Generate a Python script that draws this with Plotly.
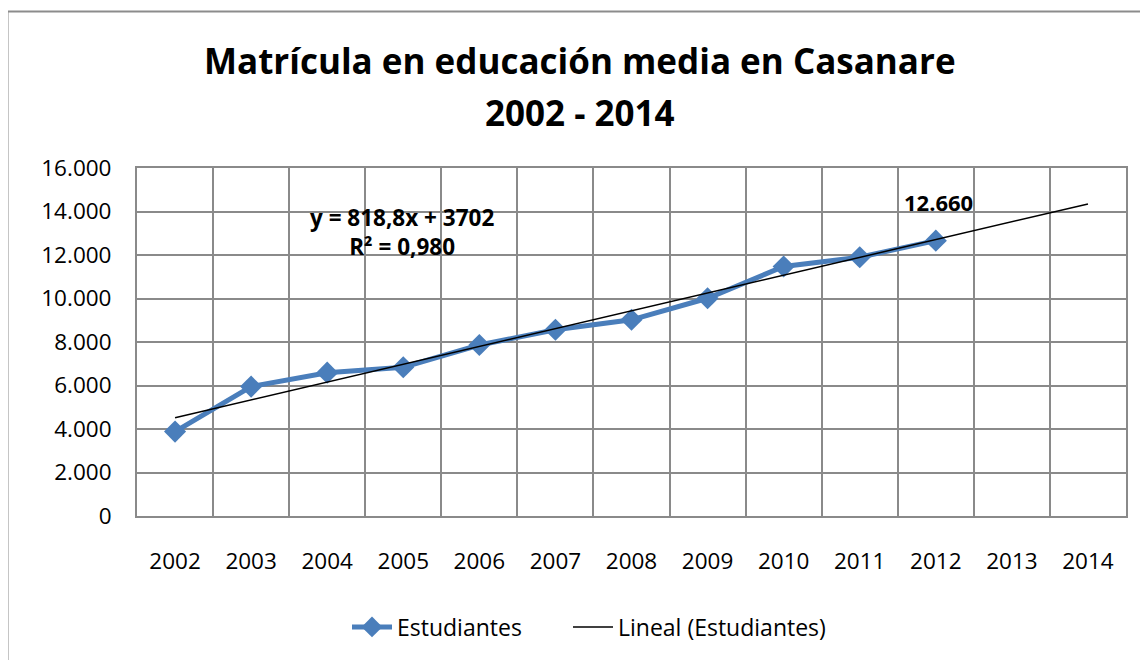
import plotly.graph_objects as go

years = ["2002", "2003", "2004", "2005", "2006", "2007", "2008", "2009", "2010", "2011", "2012", "2013", "2014"]
data_years = years[:11]
estudiantes = [3880, 5950, 6590, 6840, 7860, 8560, 9020, 10010, 11470, 11900, 12660]
trend_slope = 818.8
trend_intercept = 3702
y_ticks = [0, 2000, 4000, 6000, 8000, 10000, 12000, 14000, 16000]
y_tick_text = ["0", "2.000", "4.000", "6.000", "8.000", "10.000", "12.000", "14.000", "16.000"]
title_lines = ["Matrícula en educación media en Casanare", "2002 - 2014"]
equation_text = "y = 818,8x + 3702<br>R² = 0,980"
last_label = "12.660"

trend_vals = [trend_slope * (i + 1) + trend_intercept for i in range(len(years))]

FONT = "Open Sans"
GRID = "#8a8a8a"
OFF = 8  # default body margin of the html page

# plot area in screen pixels
L, R, T, B = 137, 1126, 168, 516
W, H = 1148 - OFF, 660 - OFF
pw, ph = R - L, B - T

def px(x):
    return (x - L) / pw

def py(y):
    return (B - y) / ph

fig = go.Figure()
fig.add_trace(go.Scatter(
    x=data_years, y=estudiantes, name="Estudiantes", mode="lines+markers",
    line=dict(color="#4a7ebb", width=5),
    marker=dict(symbol="diamond", size=17, color="#4a7ebb"),
    legend="legend",
))
fig.add_trace(go.Scatter(
    x=years, y=trend_vals, name="Lineal (Estudiantes)", mode="lines",
    line=dict(color="black", width=1.5),
    legend="legend2",
))

# title (two lines, Excel-like spacing)
for txt, yc in zip(title_lines, [60, 112]):
    fig.add_annotation(
        x=px(580), y=py(yc), xref="paper", yref="paper", text=txt, showarrow=False,
        font=dict(family=FONT, size=35, color="black", weight="bold"),
        xanchor="center", yanchor="middle",
    )

fig.add_annotation(
    x=px(402), y=py(232), xref="paper", yref="paper", text=equation_text,
    showarrow=False, font=dict(family=FONT, size=22.5, color="black", weight="bold"),
    align="center", xanchor="center", yanchor="middle",
)
fig.add_annotation(
    x=len(data_years) - 1, y=estudiantes[-1], xref="x", yref="y", text=last_label,
    showarrow=False, yshift=39, xshift=3,
    font=dict(family=FONT, size=22, color="black", weight="bold"),
    xanchor="center", yanchor="middle",
)

# outer chart frame
fig.add_shape(type="rect", xref="paper", yref="paper",
              x0=px(7.5), x1=px(1300), y0=py(11.5), y1=py(800),
              line=dict(color="#8c8c8c", width=2), layer="below")

legend_common = dict(orientation="h", xanchor="left", yanchor="middle",
                     font=dict(family=FONT, size=23, color="black"), itemwidth=40,
                     bgcolor="rgba(0,0,0,0)")

fig.update_layout(
    width=W, height=H,
    margin=dict(l=L - OFF, r=W - (R - OFF), t=T - OFF, b=H - (B - OFF)),
    paper_bgcolor="white", plot_bgcolor="white",
    font=dict(family=FONT, size=22, color="black"),
    showlegend=True,
    legend=dict(x=px(347), y=py(627), **legend_common),
    legend2=dict(x=px(568), y=py(627), **legend_common),
    xaxis=dict(type="category", categoryorder="array", categoryarray=years,
               range=[-0.5, 12.5], tickson="boundaries", showgrid=True,
               gridcolor=GRID, gridwidth=2, showline=True, linecolor=GRID, linewidth=2,
               mirror=True, ticks="", ticklabelstandoff=24, zeroline=False,
               tickfont=dict(family=FONT, size=22.5, color="black")),
    yaxis=dict(range=[0, 16000], tickvals=y_ticks, ticktext=y_tick_text,
               showgrid=True, gridcolor=GRID, gridwidth=2, showline=True,
               linecolor=GRID, linewidth=2, mirror=True, ticks="",
               ticklabelstandoff=19, zeroline=False,
               tickfont=dict(family=FONT, size=22.5, color="black")),
)

fig.write_html("out.html")
